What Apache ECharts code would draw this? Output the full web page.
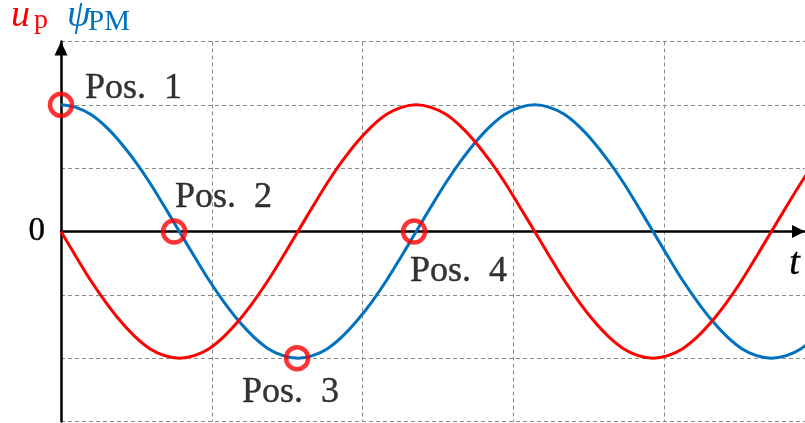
<!DOCTYPE html>
<html>
<head>
<meta charset="utf-8">
<script src="https://cdn.jsdelivr.net/npm/echarts@6/dist/echarts.min.js"></script>
<style>
  html, body { margin: 0; padding: 0; background: #fff; }
  #main { width: 805px; height: 423px; }
</style>
</head>
<body>
<div id="main"></div>
<script>
// Time samples (one grid division = 1 unit), 32 samples per electrical period
const t = [0, 0.098, 0.196, 0.295, 0.393, 0.491, 0.589, 0.687, 0.785, 0.884, 0.982, 1.080, 1.178,
           1.276, 1.374, 1.473, 1.571, 1.669, 1.767, 1.865, 1.963, 2.062, 2.160, 2.258, 2.356,
           2.454, 2.553, 2.651, 2.749, 2.847, 2.945, 3.043, 3.142, 3.240, 3.338, 3.436, 3.534,
           3.632, 3.731, 3.829, 3.927, 4.025, 4.123, 4.222, 4.320, 4.418, 4.516, 4.614, 4.712,
           4.811, 4.909, 5.007, 5.105];
// PM flux linkage (blue), in grid divisions
const psiPM = [2, 1.96, 1.85, 1.66, 1.41, 1.11, 0.77, 0.39, 0, -0.39, -0.77, -1.11, -1.41,
               -1.66, -1.85, -1.96, -2, -1.96, -1.85, -1.66, -1.41, -1.11, -0.77, -0.39, 0,
               0.39, 0.77, 1.11, 1.41, 1.66, 1.85, 1.96, 2, 1.96, 1.85, 1.66, 1.41,
               1.11, 0.77, 0.39, 0, -0.39, -0.77, -1.11, -1.41, -1.66, -1.85, -1.96, -2,
               -1.96, -1.85, -1.66, -1.41];
// Back-EMF (red), in grid divisions
const uP = [0, -0.39, -0.77, -1.11, -1.41, -1.66, -1.85, -1.96, -2, -1.96, -1.85, -1.66, -1.41,
            -1.11, -0.77, -0.39, 0, 0.39, 0.77, 1.11, 1.41, 1.66, 1.85, 1.96, 2,
            1.96, 1.85, 1.66, 1.41, 1.11, 0.77, 0.39, 0, -0.39, -0.77, -1.11, -1.41,
            -1.66, -1.85, -1.96, -2, -1.96, -1.85, -1.66, -1.41, -1.11, -0.77, -0.39, 0,
            0.39, 0.77, 1.11, 1.41];
// Rotor positions marked on the flux curve
const posT = [0, 0.75, 1.566, 2.342];
const posY = [2, 0, -2, 0];
const posNames = ['Pos.  1', 'Pos.  2', 'Pos.  3', 'Pos.  4'];

const SERIF = '"Liberation Serif", "Times New Roman", serif';
const RED = '#ff0000';
const BLUE = '#0070c0';

// label placement relative to each marker centre
const posLabelOffset = [[24, -16], [1, -33.5], [-55, 34], [-4, 40]];

const chart = echarts.init(document.getElementById('main'), null, { renderer: 'canvas' });

const dashed = { color: '#8a8a8a', width: 1, type: [4, 3] };
// slight stroke so the serif text reads as solid black
const inkText = { color: '#000', textBorderColor: '#000', textBorderWidth: 0.4 };

chart.setOption({
  animation: false,
  backgroundColor: '#fff',
  grid: { left: 61, right: 0, top: 41.5, bottom: 1.5 },
  xAxis: {
    type: 'value',
    min: 0,
    max: 4.935,
    interval: 1,
    axisLine: {
      show: true, onZero: true,
      lineStyle: { color: '#000', width: 2.5 },
      symbol: ['none', 'triangle'], symbolSize: [13, 13], symbolOffset: [0, -6.5]
    },
    axisTick: { show: false },
    axisLabel: { show: false },
    splitLine: { show: true, showMinLine: false, showMaxLine: false, lineStyle: dashed }
  },
  yAxis: {
    type: 'value',
    min: -3,
    max: 3,
    interval: 1,
    axisLine: {
      show: true, onZero: false,
      lineStyle: { color: '#000', width: 2.5 },
      symbol: ['none', 'triangle'], symbolSize: [13, 14], symbolOffset: [0, -7]
    },
    axisTick: { show: false },
    axisLabel: Object.assign({
      show: true, margin: 16,
      fontFamily: SERIF, fontSize: 33,
      formatter: v => (v === 0 ? '0' : '')
    }, inkText),
    splitLine: { show: true, lineStyle: dashed }
  },
  series: [
    {
      name: 'psiPM', type: 'line', smooth: 0.3, showSymbol: false, clip: true,
      lineStyle: { color: BLUE, width: 3 },
      data: t.map((x, i) => [x, psiPM[i]]),
      z: 3
    },
    {
      name: 'up', type: 'line', smooth: 0.3, showSymbol: false, clip: true,
      lineStyle: { color: RED, width: 3 },
      data: t.map((x, i) => [x, uP[i]]),
      z: 4
    },
    {
      name: 'positions', type: 'scatter', symbol: 'circle', symbolSize: 22,
      itemStyle: { color: 'rgba(0,0,0,0)', borderColor: RED, borderWidth: 4.5 },
      z: 5,
      data: posT.map((x, i) => ({
        value: [x, posY[i]],
        label: Object.assign({
          show: true, position: 'inside', align: 'left', verticalAlign: 'middle',
          offset: posLabelOffset[i],
          formatter: posNames[i],
          fontFamily: SERIF, fontSize: 36
        }, inkText)
      }))
    }
  ],
  graphic: [
    { type: 'text', left: 11, top: -3, style: { text: 'u', fontFamily: SERIF, fontStyle: 'italic', fontSize: 38, fill: RED } },
    { type: 'text', left: 34, top: 7, style: { text: 'p', fontFamily: SERIF, fontSize: 28, fill: RED } },
    { type: 'text', left: 67, top: -3, style: { text: 'ψ', fontFamily: SERIF, fontStyle: 'italic', fontSize: 38, fill: BLUE } },
    { type: 'text', left: 88, top: 8, style: { text: 'PM', fontFamily: SERIF, fontSize: 29, fill: BLUE } },
    { type: 'text', left: 789, top: 245, style: { text: 't', fontFamily: SERIF, fontStyle: 'italic', fontSize: 38, fill: '#000', stroke: '#000', lineWidth: 0.4 } }
  ]
});
</script>
</body>
</html>
